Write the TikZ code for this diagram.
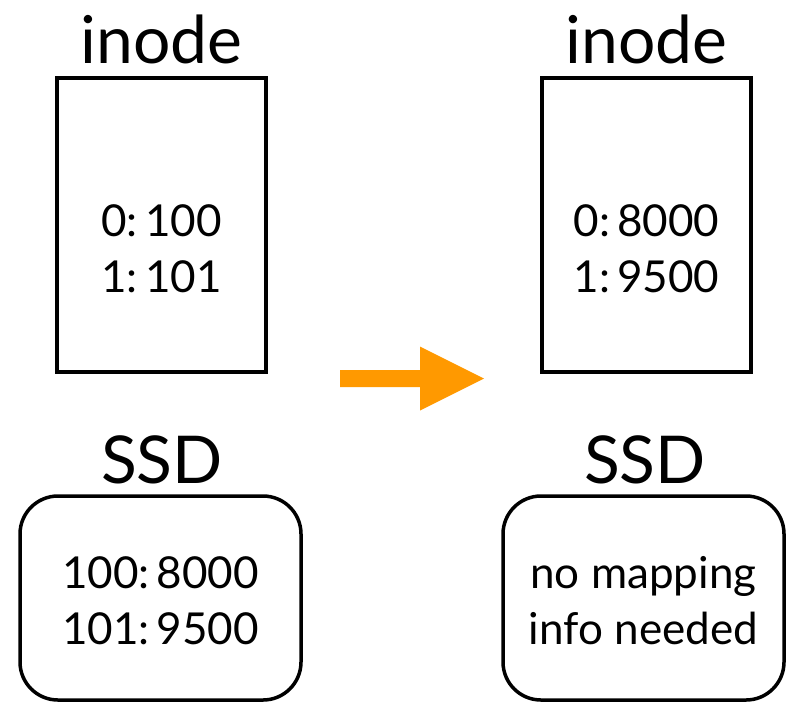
\documentclass[tikz,border=0pt]{standalone}
\usepackage{fontspec}
\setmainfont{Lato}
\usepackage{tikz}
\usetikzlibrary{calc,positioning}
\definecolor{flowfill}{HTML}{FF9900}
\tikzstyle{inodebox} = [draw=black,line width=3.5pt,minimum width=209pt,minimum height=294pt,inner sep=0]
\tikzstyle{ssdbox} = [draw=black,line width=3.5pt,rounded corners=38pt,minimum width=281pt,minimum height=204pt,inner sep=0]
\tikzstyle{title} = [font=\fontsize{66}{70}\selectfont,anchor=base,inner sep=0]
\tikzstyle{entry} = [font=\fontsize{44}{56}\selectfont,align=center,inner sep=0]
\tikzset{x=1pt, y=-1pt}

\begin{document}
\begin{tikzpicture}
\useasboundingbox (0,0) rectangle (791,702);

\node[inodebox] (in1) at (161.5,225) {};
\node[inodebox] (in2) at (646.5,225) {};
\node[title] (t1) at (161.5,63) {inode};
\node[title] (t2) at (646.5,63) {inode};
\node[entry] (e1) at ($(in1.center)+(0,24)$) {0:\,100\\1:\,101};
\node[entry] (e2) at ($(in2.center)+(0,24)$) {0:\,8000\\1:\,9500};

\node[ssdbox] (s1) at (160.5,598) {};
\node[ssdbox] (s2) at (643.5,598) {};
\node[title] (t3) at (162,483) {SSD};
\node[title] (t4) at (645,483) {SSD};
\node[entry] (e3) at ($(s1.center)+(0,3)$) {100:\,8000\\101:\,9500};
\node[entry] (e4) at ($(s2.center)+(0,3)$) {no mapping\\info needed};

% orange arrow
\coordinate (a0) at (340,378.5);
\coordinate (a1) at (484,378.5);
\fill[flowfill] ($(a0)+(0,-8.5)$) -- ($(a1)+(-64,-8.5)$) -- ($(a1)+(-64,-32)$) -- (a1)
  -- ($(a1)+(-64,32)$) -- ($(a1)+(-64,8.5)$) -- ($(a0)+(0,8.5)$) -- cycle;
\end{tikzpicture}
\end{document}
